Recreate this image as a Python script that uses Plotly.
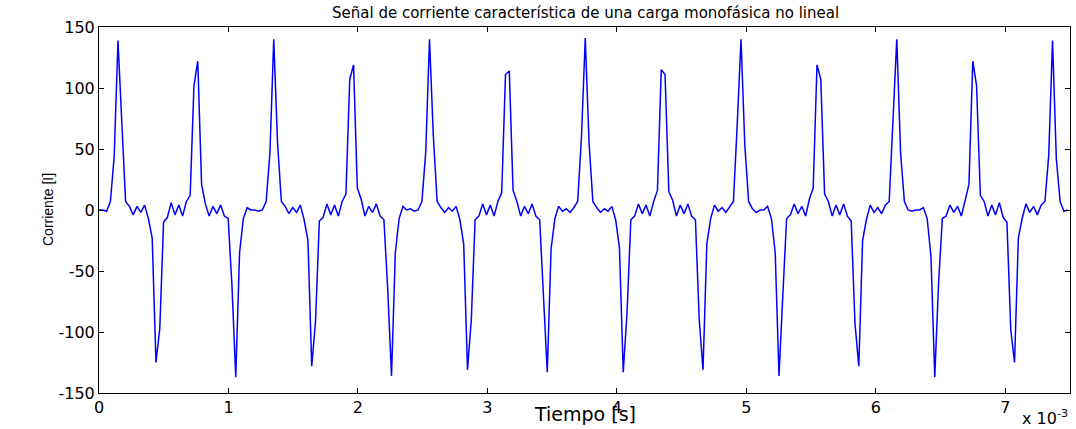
import plotly.graph_objects as go

dt = 2.9343e-5
corriente = [
    0, 0, -1, 7, 44, 139, 72, 7, 3, -4,
    3, -2, 4, -7, -23, -125, -97, -10, -6, 6,
    -4, 4, -5, 7, 12, 102, 122, 21, 5, -5,
    3, -3, 4, -5, -7, -62, -137, -35, -7, 2,
    0, 0, -1, 0, 7, 47, 140, 55, 7, 3,
    -3, 2, -2, 4, -8, -25, -128, -91, -9, -6,
    5, -4, 4, -5, 7, 13, 107, 119, 18, 9,
    -5, 3, -2, 5, -5, -8, -65, -136, -35, -7,
    3, 0, 1, -1, 0, 7, 47, 140, 61, 7,
    2, -2, 2, -1, 3, -8, -28, -131, -90, -8,
    -5, 5, -4, 4, -5, 7, 14, 111, 114, 16,
    7, -5, 3, -3, 5, -5, -8, -76, -133, -32,
    -7, 3, -1, 1, -2, 2, 7, 60, 141, 55,
    7, 2, -2, 1, -1, 3, -8, -31, -133, -84,
    -8, -5, 5, -3, 4, -5, 7, 16, 115, 111,
    15, 8, -5, 4, -3, 5, -5, -8, -90, -131,
    -28, -7, 4, -1, 2, -2, 3, 7, 70, 140,
    53, 7, 1, -2, 0, 0, 3, -7, -35, -136,
    -70, -7, -4, 5, -3, 3, -5, 9, 18, 119,
    107, 13, 7, -5, 4, -4, 5, -5, -9, -93,
    -128, -25, -8, 4, -2, 2, -3, 4, 7, 70,
    140, 47, 7, 0, -1, 0, 0, 2, -7, -38,
    -137, -60, -7, -5, 4, -2, 3, -5, 7, 21,
    122, 102, 12, 7, -5, 4, -4, 6, -6, -10,
    -98, -125, -23, -7, 5, -2, 3, -4, 4, 7,
    45, 139, 42, 7, -1, 0,
]
tiempo = [i * dt for i in range(len(corriente))]

x_tickvals = [0, 1e-3, 2e-3, 3e-3, 4e-3, 5e-3, 6e-3, 7e-3]
x_ticktext = ["0", "1", "2", "3", "4", "5", "6", "7"]
y_tickvals = [-150, -100, -50, 0, 50, 100, 150]
y_ticktext = ["-150", "-100", "-50", "0", "50", "100", "150"]

titulo = "Señal de corriente característica de una carga monofásica no lineal"
etiqueta_x = "Tiempo [s]"
etiqueta_y = "Corriente [I]"

fig = go.Figure()
fig.add_trace(go.Scatter(
    x=tiempo, y=corriente, mode="lines",
    line=dict(color="rgb(0,0,255)", width=1.5),
    hoverinfo="skip", showlegend=False,
))

tick_font = dict(family="DejaVu Sans", size=16, color="black")

fig.update_layout(
    width=1076, height=429,
    margin=dict(l=99, r=6, t=27, b=36, pad=0),
    paper_bgcolor="white", plot_bgcolor="white",
    showlegend=False,
    xaxis=dict(
        range=[0, 7.5e-3], tickmode="array", tickvals=x_tickvals, ticktext=x_ticktext,
        ticks="inside", ticklen=5, tickwidth=1, tickcolor="black",
        showline=True, linecolor="black", linewidth=1, mirror="ticks",
        showgrid=False, zeroline=False, tickfont=tick_font,
    ),
    yaxis=dict(
        range=[-150, 150], tickmode="array", tickvals=y_tickvals, ticktext=y_ticktext,
        ticks="inside", ticklen=5, tickwidth=1, tickcolor="black",
        showline=True, linecolor="black", linewidth=1, mirror="ticks",
        showgrid=False, zeroline=False, tickfont=tick_font,
    ),
    annotations=[
        dict(text=titulo, xref="paper", yref="paper", x=(585 - 99) / 971, y=(393 - 13) / 366,
             xanchor="center", yanchor="middle", showarrow=False,
             font=dict(family="DejaVu Sans", size=15, color="black")),
        dict(text=etiqueta_x, xref="paper", yref="paper", x=(585 - 99) / 971, y=(393 - 414) / 366,
             xanchor="center", yanchor="middle", showarrow=False,
             font=dict(family="DejaVu Sans", size=19, color="black")),
        dict(text=etiqueta_y, xref="paper", yref="paper", x=(48 - 99) / 971, y=0.5,
             xanchor="center", yanchor="middle", textangle=-90, showarrow=False,
             font=dict(family="Liberation Sans", size=14, color="black")),
        dict(text="x 10<sup>-3</sup>", xref="paper", yref="paper", x=1.0, y=(393 - 417) / 366,
             xanchor="right", yanchor="middle", showarrow=False,
             font=dict(family="DejaVu Sans", size=16, color="black")),
    ],
)

fig.write_html("out.html")
